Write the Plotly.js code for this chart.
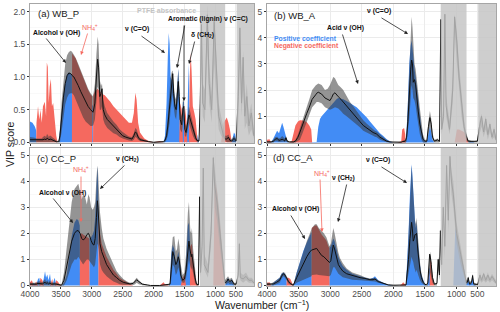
<!DOCTYPE html>
<html><head><meta charset="utf-8">
<script src="https://cdn.plot.ly/plotly-3.0.1.min.js"></script>
<style>html,body{margin:0;padding:0;background:#fff}#chart{width:500px;height:312px}</style>
</head><body><div id="chart"></div>
<script>
// ---------- Panel (a) WB_P ----------
const wnA = [4000,3960,3920,3900,3895,3870,3850,3830,3810,3790,
 3760,3740,3728,3712,3697,3682,3662,3645,3625,3600,
 3575,3555,3535,3515,3490,3460,3430,3400,3370,3340,
 3322,3318,3290,3260,3220,3180,3140,3100,3060,3020,
 2995,2992,2980,2976,2950,2925,2905,2890,2870,2850,
 2835,2815,2790,2750,2700,2650,2600,2550,2500,2450,
 2400,2350,2320,2295,2275,2250,2220,2150,2080,2000,
 1900,1840,1815,1790,1770,1755,1740,1725,1705,1690,
 1675,1655,1635,1615,1600,1585,1570,1545,1525,1510,
 1495,1475,1455,1440,1428,1415,1400,1385,1365,1340,
 1320,1300,1285,1265,1245,1225,1205,1170,1130,1100,
 1060,1020,980,920,860,800,760,720,680,645,
 600,545,515,490,440,400,360,320,280,230,
 180,120,60];
const posA = [.32,.30,.24,.18,0,0,0,0,0,0,
 0,0,0,0,0,0,0,0,0,0,
 0,0,0,.18,.45,.72,.92,1.04,1.07,1.05,
 1.02,0,0,0,0,0,0,0,0,0,
 0,.58,.55,0,0,0,0,0,0,0,
 0,0,0,0,0,0,0,0,0,0,
 0,0,0,0,0,0,0,0,0,0,
 0,0,.1,.6,1.3,1.67,1.5,1.0,.95,.92,
 .85,.6,.55,.9,1.12,.8,0,0,.62,.62,
 0,0,.3,.9,1.2,0,0,0,0,0,
 0,0,.12,0,0,0,0,0,0,0,
 0,0,0,0,0,0,0,0,0,0,
 0,.15,.12,0,0,0,0,0,0,0,
 0,0,0];
const negA = [0,0,0,0,.3,.55,.35,.5,.3,.55,
 .62,.4,1.22,1.15,.6,.85,.97,.55,.6,.3,
 .1,0,0,0,0,0,0,0,0,0,
 0,1.36,1.32,1.28,1.18,1.08,.99,.9,.8,.73,
 .7,0,0,.72,.78,.8,.82,.8,.78,.76,
 .75,.73,.72,.68,.62,.55,.5,.45,.4,.35,
 .3,.3,.45,.76,.65,.3,.15,.06,.02,0,
 .02,0,0,0,0,0,0,0,0,0,
 0,0,0,0,0,0,.6,.5,0,0,
 .55,.4,0,0,0,1.0,1.37,1.1,.55,.45,
 .35,.15,0,0,0,0,0,0,0,0,
 0,0,0,0,0,.3,.35,.38,.3,.2,
 0,0,0,0,0,0,0,0,0,0,
 0,0,0];
const loA = [0,0,0,0,0,0,0,0,0,0,
 0,0,0,0,0,0,0,0,0,0,
 0,0,0,0,.15,.4,.58,.68,.74,.75,
 .75,.75,.72,.65,.55,.46,.38,.32,.28,.25,
 .25,.25,.25,.26,.35,.6,.85,.8,.5,.5,
 .55,.35,.28,.22,.18,.14,.12,.08,.06,.04,
 .03,.02,.04,.08,.07,.04,.02,.01,0,0,
 0,0,0,.04,.1,.2,.3,.5,.7,.75,
 .55,.4,.35,.5,.7,.5,.2,.15,.3,.35,
 .1,.08,.15,.25,.3,.25,.2,.15,.1,.05,
 .03,.01,0,0,.3,1.2,.4,.3,1.4,.6,
 .3,1.2,.8,.2,.1,.05,.02,0,0,0,
 0,0,0,0,.3,1.2,.4,.8,.2,.3,
 .1,.2,.05];
const hiA = [.08,.08,.07,.06,.06,.07,.06,.07,.06,.08,
 .1,.08,.12,.12,.08,.1,.1,.08,.07,.05,
 .03,.02,.03,.22,.6,.95,1.2,1.33,1.38,1.4,
 1.39,1.38,1.34,1.29,1.2,1.1,1.0,.9,.82,.75,
 .72,.71,.7,.72,.9,1.35,1.62,1.5,.95,.86,
 .9,.65,.55,.45,.38,.32,.27,.2,.16,.12,
 .09,.08,.14,.22,.2,.12,.07,.04,.02,.01,
 .01,.02,.05,.2,.4,.6,.8,1.0,1.08,1.1,
 .9,.7,.65,1.0,1.12,.9,.5,.4,.65,.66,
 .3,.25,.4,.5,.55,.5,.45,.4,.3,.2,
 .12,.06,.04,.04,.9,2.0,.9,.8,2.1,1.2,
 .7,1.95,1.4,.6,.4,.2,.1,.1,.12,.06,
 .05,.1,.08,.05,1.0,1.85,.9,1.4,.6,.9,
 .4,.6,.2];
const meanA = [.04,.04,.03,.03,.03,.04,.03,.04,.03,.04,
 .05,.04,.06,.06,.04,.05,.05,.04,.03,.02,
 .01,.01,.01,.1,.38,.68,.9,1.02,1.06,1.05,
 1.03,1.02,1.0,.95,.87,.78,.7,.61,.55,.5,
 .47,.47,.46,.47,.6,1.0,1.27,1.15,.7,.75,
 .82,.5,.42,.35,.3,.24,.2,.14,.1,.08,
 .06,.05,.1,.16,.14,.08,.04,.02,.01,0,
 0,.01,.03,.1,.25,.4,.6,.8,.95,1.05,
 .75,.55,.5,.78,.93,.7,.35,.27,.52,.55,
 .2,.15,.3,.38,.42,.38,.33,.28,.2,.12,
 .07,.03,.02,.02,.6,1.8,.6,.5,1.95,.9,
 .5,1.85,1.2,.4,.25,.1,.05,.05,.08,.03,
 .02,.06,.04,.02,.7,1.75,.6,1.3,.4,.7,
 .25,.45,.1];

// ---------- Panel (b) WB_A ----------
const wnB = [4000,3960,3935,3900,3870,3840,3810,3785,3760,3740,
 3720,3700,3680,3650,3610,3580,3550,3510,3478,3430,
 3372,3330,3300,3285,3230,3214,3188,3161,3135,3082,
 3040,3003,2975,2951,2924,2900,2872,2830,2793,2740,
 2687,2634,2581,2530,2476,2420,2370,2320,2291,2264,
 2212,2159,2106,2054,2000,1930,1875,1860,1830,1812,
 1805,1790,1770,1748,1725,1711,1697,1685,1665,1647,
 1625,1606,1580,1553,1530,1500,1470,1445,1421,1400,
 1380,1350,1300,1270,1248,1235,1205,1184,1165,1110,
 1060,1030,990,940,880,820,770,720,650,560,
 500,450,400,350,300,250,200,150,100,55];
const posB = [0,0,0,.15,.3,.45,.35,.55,.75,.6,
 .4,.25,.05,0,0,0,0,0,0,0,
 0,0,0,0,0,.02,.6,.9,1.0,1.15,
 1.25,1.35,1.45,1.5,1.58,1.65,1.7,1.68,1.65,1.58,
 1.5,1.42,1.35,1.22,1.1,.95,.8,.65,.55,.5,
 .35,.25,.12,.05,0,0,0,0,0,0,
 .1,.5,1.5,3.0,3.7,3.9,3.6,3.2,2.8,2.5,
 2.0,1.6,1.0,.5,.2,.05,.05,.4,.6,.4,
 .1,0,0,0,0,0,0,0,0,0,
 0,0,0,0,0,0,0,0,.05,0,
 0,0,0,0,0,0,0,0,0,0];
const negB = [.1,.12,0,0,0,0,0,0,0,0,
 0,0,0,0,.05,.35,.65,.8,.85,.84,
 .78,.65,.5,0,0,0,0,0,0,0,
 0,0,0,0,0,0,0,0,0,0,
 0,0,0,0,0,0,0,0,0,0,
 0,0,0,0,0,0,.05,.5,.55,.3,
 0,0,0,0,0,0,0,0,0,0,
 0,0,0,0,0,0,0,0,0,0,
 0,0,0,0,0,0,0,0,0,0,
 0,0,.5,.5,.45,.4,.3,0,0,0,
 0,0,0,0,0,0,0,0,0,0];
const loB = [0,0,0,0,.05,.05,.02,.03,.05,.04,
 .02,.05,.01,0,0,0,0,.05,.1,.4,
 .8,1.05,1.25,1.35,1.5,1.55,1.55,1.52,1.5,1.35,
 1.28,1.25,1.28,1.3,1.35,1.33,1.3,1.2,1.1,1.0,
 .9,.8,.7,.58,.45,.37,.3,.26,.22,.2,
 .1,.05,.01,0,0,0,0,0,0,0,
 0,.05,.4,.9,1.7,2.2,2.0,1.7,1.6,1.4,
 1.0,.7,.3,.1,0,0,0,.3,.6,.4,
 .1,0,0,0,4.3,.3,.8,4.5,1.0,.3,
 1.5,4.2,3.0,2.0,1.0,.4,.1,0,0,0,
 0,.3,.6,.2,.5,.1,.4,.1,.2,.05];
const hiB = [.05,.05,.05,.1,.2,.22,.15,.18,.25,.2,
 .15,.25,.1,.04,.03,.05,.1,.3,.55,.95,
 1.35,1.65,1.9,2.0,2.18,2.22,2.25,2.22,2.2,2.0,
 2.05,2.2,2.4,2.5,2.45,2.3,2.2,2.1,2.0,1.78,
 1.55,1.38,1.2,1.02,.85,.72,.6,.52,.45,.42,
 .3,.2,.1,.04,.02,.02,.03,.06,.08,.1,
 .15,.4,1.5,3.0,4.2,4.8,4.4,3.7,3.0,2.8,
 2.2,1.9,1.3,.8,.3,.1,.1,.8,1.2,.9,
 .35,.1,.15,.08,4.9,.8,1.4,5.0,1.8,.8,
 2.5,4.9,4.2,3.0,1.8,.9,.4,.1,.08,.06,
 .08,.8,1.1,.5,1.0,.4,.8,.3,.6,.2];
const meanB = [.02,.02,.02,.05,.12,.15,.08,.1,.12,.1,
 .06,.18,.05,.02,.01,.02,.05,.2,.4,.75,
 1.1,1.35,1.55,1.65,1.82,1.88,1.92,1.88,1.85,1.7,
 1.63,1.6,1.72,1.85,1.9,1.82,1.75,1.65,1.55,1.4,
 1.25,1.1,.95,.8,.65,.55,.45,.38,.35,.32,
 .2,.12,.05,.02,.01,.01,.01,.03,.04,.05,
 .08,.2,.8,2.0,2.8,3.15,3.0,2.3,2.4,2.2,
 1.5,1.2,.7,.4,.12,.05,.05,.6,.95,.7,
 .2,.05,.1,.04,4.7,.5,1.0,4.9,1.4,.5,
 2.0,4.8,3.8,2.5,1.4,.6,.25,.05,.04,.03,
 .05,.6,1.0,.4,.9,.3,.7,.2,.5,.1];

// ---------- Panel (c) CC_P ----------
const wnC = [4000,3970,3940,3900,3870,3850,3830,3800,3775,3757,
 3740,3720,3700,3676,3655,3640,3620,3600,3575,3550,
 3520,3490,3450,3406,3360,3325,3280,3244,3218,3195,
 3190,3164,3140,3110,3080,3056,3042,3038,3010,2985,
 2965,2945,2925,2910,2900,2893,2889,2867,2840,2813,
 2760,2706,2650,2598,2550,2490,2430,2382,2330,2300,
 2274,2240,2180,2100,2050,1900,1840,1815,1750,1735,
 1715,1690,1665,1640,1620,1600,1580,1560,1530,1500,
 1475,1445,1428,1412,1405,1390,1380,1360,1330,1305,
 1275,1255,1240,1215,1196,1180,1120,1070,1034,1010,
 960,900,840,790,765,720,690,650,600,540,
 490,440,413,390,320,250,180,110,60];
const posC = [0,0,.1,0,.25,.3,0,0,.3,.55,
 .3,.42,.2,.45,0,0,.15,.3,0,0,
 0,0,.1,.4,1.2,1.9,2.4,2.55,2.5,2.3,
 0,0,0,0,0,0,0,1.8,1.85,1.95,
 2.1,2.6,3.8,4.55,4.0,3.0,0,0,0,0,
 0,0,0,0,0,0,0,0,0,0,
 0,0,0,0,0,0,0,0,0,.05,
 1.2,1.55,1.4,.8,1.0,1.3,1.0,.5,0,0,
 .8,2.3,2.4,1.7,0,0,0,0,0,0,
 0,0,0,0,0,0,0,0,0,0,
 0,0,0,0,0,.2,.3,.1,.25,0,
 0,0,0,0,0,0,0,0,0];
const negC = [.12,.2,0,.15,0,0,.3,.2,0,0,
 0,0,0,0,.15,.25,0,0,.2,.15,
 .05,0,0,0,0,0,0,0,0,0,
 1.95,2.0,1.95,1.9,1.85,1.8,1.8,0,0,0,
 0,0,0,0,0,0,2.6,2.0,1.6,1.4,
 1.1,.85,.6,.45,.3,.2,.12,.05,0,0,
 0,0,0,0,0,0,.12,.05,0,0,
 0,0,0,0,0,0,0,0,.3,.4,
 0,0,0,0,1.5,1.55,1.6,1.0,.4,.05,
 0,0,0,0,0,0,0,0,0,4.0,
 3.6,2.6,1.5,.5,0,0,0,0,0,0,
 0,0,0,0,0,0,0,0,0];
const loC = [0,0,0,0,0,0,0,0,0,0,
 0,0,0,0,0,0,0,0,0,0,
 0,0,0,.2,.5,.8,1.0,1.0,1.1,1.0,
 1.0,.9,.8,.9,1.0,1.0,.95,.95,.85,.72,
 .7,.8,1.2,1.6,1.55,1.45,1.4,.8,.6,.5,
 .35,.25,.15,.1,.05,.03,.02,.01,.02,.05,
 .1,.05,.01,0,0,0,0,0,0,0,
 .2,.8,.7,.4,.5,.7,.5,.2,.1,.1,
 .3,.8,1.0,.8,.7,.6,.7,.4,.1,0,
 0,2.8,.3,1.0,3.8,.6,.3,1.5,4.2,3.0,
 2.5,1.6,.8,.2,.05,.05,.1,.05,.05,0,
 0,.3,1.2,.2,.1,.2,.1,.1,.05];
const hiC = [.1,.1,.08,.1,.15,.15,.15,.12,.18,.25,
 .15,.2,.12,.2,.1,.12,.1,.12,.1,.08,
 .05,.03,.5,1.5,2.5,3.2,3.7,3.85,3.9,3.65,
 3.6,3.3,3.5,3.4,3.1,3.5,3.4,3.4,3.0,2.9,
 3.0,3.2,4.1,4.6,4.4,4.0,3.8,2.8,2.2,1.8,
 1.4,1.1,.8,.55,.4,.25,.15,.1,.12,.2,
 .3,.2,.08,.03,.01,.01,.03,.03,.05,.1,
 1.2,1.85,1.9,1.3,1.4,1.8,1.5,.8,.4,.5,
 1.2,2.8,3.2,2.4,2.1,2.0,2.2,1.4,.6,.1,
 .05,3.5,.8,1.8,4.6,1.2,.8,2.5,5.0,4.5,
 3.8,2.8,1.6,.6,.2,.3,.35,.25,.3,.1,
 .1,.6,1.7,.5,.4,.5,.3,.3,.2];
const meanC = [.05,.05,.04,.05,.08,.08,.08,.06,.1,.12,
 .08,.1,.06,.1,.05,.06,.05,.06,.05,.04,
 .02,.01,.2,.7,1.3,1.7,2.0,2.1,2.1,2.0,
 2.0,1.8,1.75,1.8,1.95,2.0,1.95,1.92,1.72,1.58,
 1.55,1.8,2.6,3.25,3.0,2.7,2.6,1.6,1.3,1.1,
 .8,.6,.4,.3,.2,.12,.08,.06,.08,.15,
 .22,.15,.05,.02,0,0,.01,.01,.02,.05,
 .6,1.3,1.1,.8,.9,1.1,.9,.4,.2,.25,
 .6,1.5,1.7,1.4,1.2,1.1,1.2,.8,.3,.05,
 .02,3.4,.5,1.5,4.5,.8,.5,2.0,4.9,3.8,
 3.2,2.2,1.2,.4,.1,.15,.25,.15,.2,.05,
 .05,.4,1.6,.3,.25,.35,.2,.2,.1];

// ---------- Panel (d) CC_A ----------
const wnD = [4000,3960,3935,3900,3850,3800,3770,3742,3715,3692,
 3685,3660,3630,3605,3584,3530,3480,3425,3370,3320,
 3295,3290,3241,3214,3180,3135,3100,3060,3030,3015,
 3011,2990,2976,2951,2930,2898,2870,2845,2800,2739,
 2650,2528,2450,2370,2320,2291,2240,2159,2080,2001,
 1900,1869,1845,1815,1800,1780,1760,1737,1720,1711,
 1700,1685,1670,1658,1645,1632,1615,1600,1579,1555,
 1527,1500,1473,1455,1440,1425,1418,1400,1380,1350,
 1310,1290,1270,1255,1235,1210,1185,1157,1130,1104,
 1080,1051,1020,998,900,800,765,740,720,690,
 640,614,590,530,490,440,400,350,300,250,
 200,150,100,55];
const posD = [0,0,0,.1,.2,.3,.45,.5,.45,.3,
 0,0,0,0,0,.5,.9,1.32,1.65,1.95,
 2.05,0,0,0,0,0,0,0,0,0,
 1.45,1.5,1.6,1.8,1.7,1.3,1.1,.95,.75,.6,
 .45,.35,.3,.25,.3,.35,.2,.1,.04,0,
 0,0,0,0,.05,.8,2.0,3.5,4.4,4.65,
 4.3,3.5,2.8,2.5,2.2,2.4,1.8,1.3,.8,.4,
 .2,.05,0,.05,.6,.7,0,0,0,0,
 0,0,0,0,0,0,0,0,0,0,
 0,0,2.2,2.0,1.2,.5,.05,.1,.3,.05,
 .1,.4,.05,0,0,0,0,0,0,0,
 0,0,0,0];
const negD = [.1,.12,0,0,0,0,0,0,0,0,
 .3,.3,.25,.1,0,0,0,0,0,0,
 0,2.2,2.3,2.3,2.12,1.95,1.85,1.72,1.5,1.45,
 0,0,0,0,0,0,0,0,0,0,
 0,0,0,0,0,0,0,0,0,0,
 0,.05,.12,.05,0,0,0,0,0,0,
 0,0,0,0,0,0,0,0,0,0,
 0,0,0,0,0,0,1.0,.9,.3,0,
 0,0,0,0,0,0,0,0,0,0,
 0,0,0,0,0,0,0,0,0,0,
 0,0,0,0,0,0,0,0,0,0,
 0,0,0,0];
const loD = [0,0,0,0,.05,.1,.25,.35,.3,.2,
 .15,.08,.03,0,0,.1,.15,.2,.25,.3,
 .35,.4,.42,.42,.4,.38,.38,.36,.35,.35,
 .35,.4,.5,.7,.7,.55,.45,.4,.32,.28,
 .22,.2,.18,.15,.14,.15,.1,.05,.01,0,
 0,0,0,0,0,.2,.5,.8,1.0,1.1,
 1.0,.9,.7,.6,.5,.6,.5,.35,.2,.1,
 .05,0,0,0,.3,.5,.5,.3,.1,0,
 0,.6,.2,1.6,.5,2.6,1.0,4.0,2.0,4.5,
 3.5,3.0,2.0,1.6,.8,.2,.05,.05,.2,0,
 .05,.25,0,0,0,.2,.1,.2,.1,.2,
 .1,.2,.1,.05];
const hiD = [.1,.1,.08,.12,.2,.3,.45,.52,.48,.35,
 .32,.22,.12,.06,.03,.5,.9,1.35,1.7,2.0,
 2.15,2.2,2.35,2.35,2.2,2.1,2.0,1.85,1.6,1.5,
 1.5,1.6,1.9,2.2,2.0,1.5,1.25,1.05,.85,.65,
 .5,.4,.32,.27,.28,.3,.2,.1,.04,.02,
 .01,.02,.03,.03,.05,.8,2.0,3.4,4.3,4.6,
 4.2,3.4,2.8,2.5,2.35,2.6,2.0,1.5,.9,.45,
 .2,.08,.05,.15,.8,1.3,1.3,1.0,.4,.08,
 .1,1.1,.6,2.2,1.0,3.1,1.8,4.7,3.0,5.0,
 4.4,4.0,3.0,2.4,1.5,.5,.2,.2,.35,.12,
 .2,.45,.12,.08,.08,.5,.3,.5,.3,.5,
 .3,.45,.3,.2];
const meanD = [.05,.05,.04,.06,.12,.2,.35,.45,.4,.28,
 .25,.15,.07,.03,.01,.3,.55,.85,1.1,1.3,
 1.35,1.36,1.4,1.42,1.3,1.15,1.1,1.0,.9,.88,
 .88,.95,1.2,1.55,1.4,1.0,.8,.7,.55,.45,
 .38,.3,.27,.22,.22,.25,.15,.08,.02,.01,
 0,.01,.02,.02,.02,.4,1.0,1.8,2.3,2.42,
 2.2,1.7,1.8,1.95,1.95,2.0,1.4,1.0,.6,.3,
 .12,.04,.03,.1,.6,1.2,1.15,.8,.3,.05,
 .08,1.0,.4,2.1,.8,3.0,1.5,4.6,2.5,4.95,
 4.0,3.5,2.5,2.0,1.2,.3,.1,.12,.3,.06,
 .12,.38,.06,.04,.04,.4,.2,.45,.2,.4,
 .2,.35,.2,.1];

// tick labels and PTFE band limits (wavenumber)
const xTickLabels = [4000,3500,3000,2500,2000,1500,1000,500];
const ptfeBands = [[1250,760],[480,55]];

// ---------- drawing ----------
const K = 0.661; // axis is compressed below 1000 cm-1
function T(w){ return w >= 1000 ? w : 1000 - (1000 - w) * K; }
const BLUE='rgb(66,140,245)', RED='rgb(245,105,95)', RIB='rgba(60,60,60,0.55)';
const FF = 'Liberation Sans, Arial, Helvetica, sans-serif';

function check(name, arrs){ const n = arrs[0].length; arrs.forEach((a,i)=>{ if(a.length!==n) throw new Error(name+' array '+i+' length '+a.length+' != '+n); }); }
check('A',[wnA,posA,negA,loA,hiA,meanA]);
check('B',[wnB,posB,negB,loB,hiB,meanB]);
check('C',[wnC,posC,negC,loC,hiC,meanC]);
check('D',[wnD,posD,negD,loD,hiD,meanD]);

function panelTraces(wn,pos,neg,lo,hi,mean,xa,ya){
  const x = wn.map(T);
  const base = {x:x, mode:'lines', xaxis:xa, yaxis:ya, hoverinfo:'skip', showlegend:false};
  return [
    Object.assign({}, base, {y:pos, fill:'tozeroy', fillcolor:BLUE, line:{width:0,color:BLUE}}),
    Object.assign({}, base, {y:neg, fill:'tozeroy', fillcolor:RED, line:{width:0,color:RED}}),
    Object.assign({}, base, {y:lo, line:{width:0,color:'rgba(0,0,0,0)'}}),
    Object.assign({}, base, {y:hi, fill:'tonexty', fillcolor:RIB, line:{width:0,color:'rgba(0,0,0,0)'}}),
    Object.assign({}, base, {y:mean, line:{width:1,color:'#111'}})
  ];
}
const data = [].concat(
  panelTraces(wnA,posA,negA,loA,hiA,meanA,'x','y'),
  panelTraces(wnB,posB,negB,loB,hiB,meanB,'x2','y2'),
  panelTraces(wnC,posC,negC,loC,hiC,meanC,'x3','y3'),
  panelTraces(wnD,posD,negD,loD,hiD,meanD,'x4','y4')
);

const W=500, H=312;
const xr = [4000, 375];
function xax(dom, anchor, labels){
  return {domain:dom, anchor:anchor, range:xr, autorange:false, tickmode:'array',
    tickvals:xTickLabels.map(T), ticktext:xTickLabels.map(String), showticklabels:labels,
    ticks:'outside', ticklen:2, tickcolor:'#333', tickwidth:1, ticklabelstandoff:-2,
    tickfont:{size:8.5,color:'#4d4d4d',family:FF},
    showgrid:true, gridcolor:'#ebebeb', gridwidth:1, zeroline:false,
    showline:true, mirror:true, linecolor:'#a6a6a6', linewidth:1};
}
function yax(dom, anchor, range, dt, fmt){
  return {domain:dom, anchor:anchor, range:range, autorange:false, tickmode:'linear', tick0:0, dtick:dt,
    tickformat:fmt, ticks:'outside', ticklen:2, tickcolor:'#333', tickwidth:1,
    tickfont:{size:8.5,color:'#4d4d4d',family:FF},
    showgrid:true, gridcolor:'#ebebeb', gridwidth:1, zeroline:false,
    minor:{dtick:dt/2, tick0:0, showgrid:true, gridcolor:'#f5f5f5', gridwidth:0.6, ticks:''},
    showline:true, mirror:true, linecolor:'#a6a6a6', linewidth:1};
}
const xL=[30/W,254/W], xR=[267/W,496/W], yT=[1-143/H,1-4/H], yB=[1-286/H,1-148/H];

const shapes=[];
[['x','y'],['x2','y2'],['x3','y3'],['x4','y4']].forEach(p=>{
  ptfeBands.forEach(b=>{
    shapes.push({type:'rect', xref:p[0], yref:p[1]+' domain', x0:T(b[0]), x1:Math.max(T(b[1]),xr[1]), y0:0, y1:1,
      fillcolor:'rgba(195,195,195,0.82)', line:{width:0}, layer:'above'});
  });
});

function txt(px,py,text,o){
  o=o||{};
  return {xref:'paper',yref:'paper',x:px/W,y:1-py/H,text:text,showarrow:false,
    xanchor:o.xa||'center',yanchor:'middle',textangle:o.ang||0,
    font:{size:o.size||6.8,color:o.color||'#111',family:FF}};
}
function arr(tx,ty,hx,hy,color){
  return {xref:'paper',yref:'paper',x:hx/W,y:1-hy/H,ax:tx-hx,ay:ty-hy,axref:'pixel',ayref:'pixel',
    text:'',showarrow:true,arrowhead:2,arrowsize:0.9,arrowwidth:0.8,arrowcolor:color||'#222',standoff:0,startstandoff:0};
}
const NH = 'NH<sub>4</sub><sup>+</sup>';
const redTxt = 'rgb(245,105,95)';
const annotations = [
  // panel a
  txt(36,14,'(a) WB_P',{xa:'left',size:9.5,color:'#1a1a1a'}),
  txt(166,11,'<b>PTFE absorbance</b>',{size:7,color:'#c4c4c4'}),
  txt(56,33,'<b>Alcohol ν (OH)</b>'),
  txt(90,27,NH,{size:7,color:redTxt}),
  txt(137,29,'<b>ν (C=O)</b>'),
  txt(208,19,'<b>Aromatic (lignin) ν (C=C)</b>'),
  txt(202,35,'<b>δ (CH<sub>2</sub>)</b>'),
  arr(45,37,66,63), arr(88,32,81,55,redTxt), arr(140,35,165,53),
  arr(185,24,177,68), arr(184,24,184,101), arr(195,40,189,64),
  // panel b
  txt(272,15,'(b) WB_A',{xa:'left',size:9.5,color:'#1a1a1a'}),
  txt(345,28,'<b>Acid ν (OH)</b>'),
  txt(379,11,'<b>ν (C=O)</b>'),
  txt(272,38,'<b>Positive coefficient</b>',{xa:'left',color:BLUE}),
  txt(272,46,'<b>Negative coefficient</b>',{xa:'left',color:redTxt}),
  arr(342,33,358,84), arr(380,17,408,34),
  // panel c
  txt(35,158,'(c) CC_P',{xa:'left',size:9.5,color:'#1a1a1a'}),
  txt(81,170,NH,{size:7,color:redTxt}),
  txt(127,159,'<b>ν (CH<sub>2</sub>)</b>'),
  txt(62,193,'<b>Alcohol ν (OH)</b>'),
  arr(81,175,81,222,redTxt), arr(126,164,100,189), arr(52,197,73,223),
  // panel d
  txt(271,157,'(d) CC_A',{xa:'left',size:9.5,color:'#1a1a1a'}),
  txt(378,160,'<b>ν (C=O)</b>'),
  txt(322,173,NH,{size:7,color:redTxt}),
  txt(343,178,'<b>ν (CH<sub>2</sub>)</b>'),
  txt(295,209,'<b>Alcohol ν (OH)</b>'),
  arr(380,166,407,183), arr(320,178,322,232,redTxt), arr(347,183,338,222), arr(290,214,305,239),
  // axis titles
  txt(262,304,'Wavenumber (cm<sup>−1</sup>)',{size:10.5,color:'#1a1a1a'}),
  txt(10,145,'VIP score',{size:10.5,color:'#1a1a1a',ang:-90})
];

const layout = {
  width:W, height:H, margin:{l:0,r:0,t:0,b:0}, paper_bgcolor:'#fff', plot_bgcolor:'#fff',
  showlegend:false, font:{family:FF},
  xaxis:xax(xL,'y',false), yaxis:yax(yT,'x',[-0.01,2.115],0.5,'.1f'),
  xaxis2:xax(xR,'y2',false), yaxis2:yax(yT,'x2',[-0.02,5.29],1,'d'),
  xaxis3:xax(xL,'y3',true), yaxis3:yax(yB,'x3',[-0.02,5.27],1,'d'),
  xaxis4:xax(xR,'y4',true), yaxis4:yax(yB,'x4',[-0.02,5.27],1,'d'),
  shapes:shapes, annotations:annotations
};
Plotly.newPlot('chart', data, layout, {staticPlot:true, displayModeBar:false});
</script></body></html>
